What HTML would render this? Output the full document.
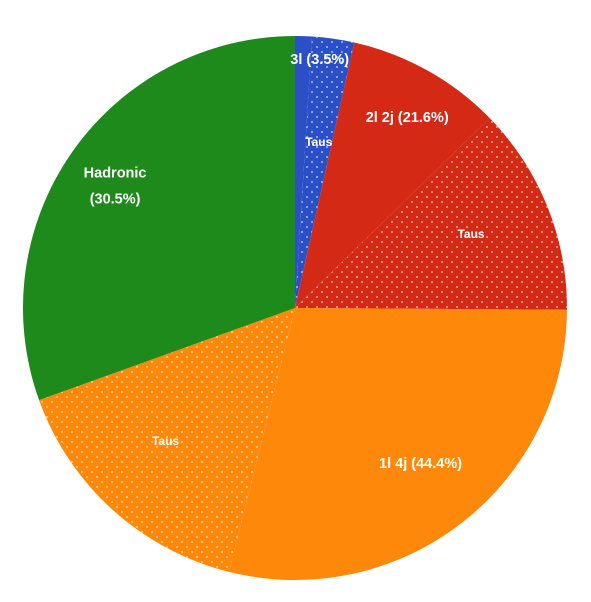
<!DOCTYPE html>
<html><head><meta charset="utf-8"><style>
html,body{margin:0;padding:0;background:#fff;}
svg{display:block;font-family:"Liberation Sans",sans-serif;}
</style></head><body>
<svg id="chart" width="591" height="602" viewBox="0 0 591 602">
<defs>
<pattern id="dots" width="10" height="10" patternUnits="userSpaceOnUse">
<circle cx="2" cy="2" r="0.9" fill="#fff" opacity="0.8"/>
<circle cx="7" cy="7" r="0.9" fill="#fff" opacity="0.8"/>
</pattern>
</defs>
<g id="slices"></g>
<g id="labels"></g>
</svg>
<script>
const categories = ["3l", "3l-taus", "2l-2j", "2l-2j-taus", "1l-4j", "1l-4j-taus", "hadronic"];
const values = [1.0, 2.5, 9.2, 12.4, 28.8, 15.6, 30.5];
const colors = ["#2b4fc6", "#2b4fc6", "#d42915", "#d42915", "#fd880a", "#fd880a", "#1f8a1c"];
const dotted = [false, true, false, true, false, true, false];
const labelTexts = ["3l (3.5%)", "Taus", "2l 2j (21.6%)", "Taus", "1l 4j (44.4%)", "Taus", "Hadronic|(30.5%)"];
const cx = 295, cy = 308, R = 272;
const ns = "http://www.w3.org/2000/svg";
const total = values.reduce((a, b) => a + b, 0);
const gS = document.getElementById('slices'), gL = document.getElementById('labels');
function pt(a, r) { return [cx + r * Math.sin(a), cy - r * Math.cos(a)]; }
const labelPos = [[0.92, 1.0], [0.62, 0.5], [0.75, 0.45], [0.67, 0.5], [0.7, 0.62], [0.6, 0.5], [0.6, 0.53]];
const nudge = [[0, 0], [0, 0], [18, -10], [7, -7], [44, -17], [-20, 11], [-52, -21]];
let acc = 0;
values.forEach((v, i) => {
  const a0 = acc / total * 2 * Math.PI; acc += v;
  const a1 = acc / total * 2 * Math.PI;
  const [x0, y0] = pt(a0, R), [x1, y1] = pt(a1, R);
  const large = (a1 - a0) > Math.PI ? 1 : 0;
  const d = `M${cx},${cy} L${x0},${y0} A${R},${R} 0 ${large} 1 ${x1},${y1} Z`;
  const p = document.createElementNS(ns, 'path');
  p.setAttribute('d', d); p.setAttribute('fill', colors[i]);
  
  
  gS.appendChild(p);
  if (dotted[i]) {
    const q = document.createElementNS(ns, 'path');
    q.setAttribute('d', d); q.setAttribute('fill', 'url(#dots)');
    
    
    gS.appendChild(q);
  }
  const lp = labelPos[i];
  let am = a0 + (a1 - a0) * lp[1];
  if (i === 0) am = a0 + (a1 - a0 + (values[1] / total) * 2 * Math.PI) * 0.45;
  let [lx, ly] = pt(am, R * lp[0]);
  lx += nudge[i][0]; ly += nudge[i][1];
  const t = document.createElementNS(ns, 'text');
  t.setAttribute('x', lx); t.setAttribute('y', ly);
  t.setAttribute('text-anchor', 'middle'); t.setAttribute('fill', '#fff');
  t.setAttribute('font-weight', 'bold');
  t.setAttribute('font-size', labelTexts[i] === 'Taus' ? '12' : '14.5');
  
  
  const parts = labelTexts[i].split('|');
  parts.forEach((s, k) => {
    const ts = document.createElementNS(ns, 'tspan');
    ts.setAttribute('x', lx); ts.setAttribute('dy', k === 0 ? (parts.length > 1 ? -8 : 5) : 26);
    ts.textContent = s; t.appendChild(ts);
  });
  gL.appendChild(t);
});
</script>
</body></html>
